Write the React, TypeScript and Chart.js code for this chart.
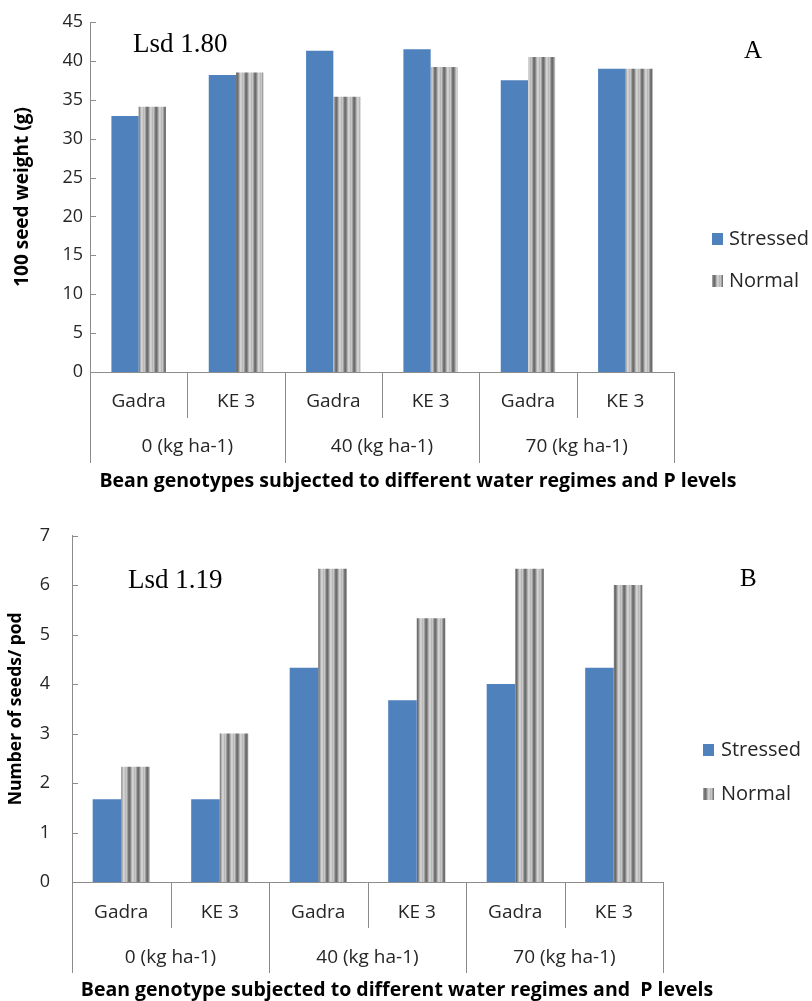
import React, { useEffect, useRef } from 'react';
import { Chart, registerables } from 'chart.js';

Chart.register(...registerables);

// ---------- data ----------
const genotypes = ['Gadra', 'KE 3', 'Gadra', 'KE 3', 'Gadra', 'KE 3'];
const pLevels = ['0 (kg ha-1)', '40 (kg ha-1)', '70 (kg ha-1)'];
const seriesNames = ['Stressed', 'Normal'];

const seedWeightStressed = [32.9, 38.2, 41.3, 41.5, 37.5, 39.0];
const seedWeightNormal = [34.1, 38.5, 35.4, 39.2, 40.5, 39.0];
const seedWeightAxis = { min: 0, max: 45, step: 5 };

const seedsPodStressed = [1.67, 1.67, 4.33, 3.67, 4.0, 4.33];
const seedsPodNormal = [2.33, 3.0, 6.33, 5.33, 6.33, 6.0];
const seedsPodAxis = { min: 0, max: 7, step: 1 };

const panelA = { letter: 'A', lsd: 'Lsd 1.80', yTitle: '100 seed weight (g)', xTitle: 'Bean genotypes subjected to different water regimes and P levels' };
const panelB = { letter: 'B', lsd: 'Lsd 1.19', yTitle: 'Number of seeds/ pod', xTitle: 'Bean genotype subjected to different water regimes and  P levels' };

// ---------- styles ----------
const BLUE = '#4F81BD';
const AXIS = '#8c8c8c';
const TEXT = '#262626';
const SANS = '"Open Sans", "Liberation Sans", sans-serif';
const SERIF = '"Liberation Serif", "DejaVu Serif", serif';

function stripePattern(ctx: CanvasRenderingContext2D): CanvasPattern {
  const c = document.createElement('canvas');
  const cols = ['#c6c6c6', '#a0a0a0', '#777777', '#6c6c6c', '#8a8a8a', '#b2b2b2', '#d2d2d2', '#cdcdcd', '#b9b9b9'];
  c.width = cols.length;
  c.height = 4;
  const g = c.getContext('2d')!;
  cols.forEach((col, i) => {
    g.fillStyle = col;
    g.fillRect(i, 0, 1, 4);
  });
  return ctx.createPattern(c, 'repeat')!;
}

type Layout = {
  width: number;
  height: number;
  areaLeft: number;
  areaRight: number;
  areaTop: number;
  areaBottom: number;
  tickPad: number;
  yTitlePad: number;
  yTitleSize: number;
  catPct: number;
  row1: number;
  row2: number;
  titleRow: number;
  shortLine: number;
  longLine: number;
  xTitleX: number;
  lsdX: number;
  lsdY: number;
  letterX: number;
  letterY: number;
  legendBoxX: number;
  legendTextX: number;
  legendY: number[];
};

const layoutA: Layout = {
  width: 812, height: 500,
  areaLeft: 90, areaRight: 674, areaTop: 22, areaBottom: 372,
  tickPad: 7, yTitlePad: 11, yTitleSize: 19, catPct: 0.56,
  row1: 30, row2: 75, titleRow: 109, shortLine: 46, longLine: 91,
  xTitleX: 418,
  lsdX: 133, lsdY: 52, letterX: 744, letterY: 58,
  legendBoxX: 712, legendTextX: 729, legendY: [239, 281],
};

const layoutB: Layout = {
  width: 812, height: 501,
  areaLeft: 72, areaRight: 663, areaTop: 35.5, areaBottom: 382,
  tickPad: 22, yTitlePad: 6, yTitleSize: 17.5, catPct: 0.58,
  row1: 31, row2: 76, titleRow: 108, shortLine: 46, longLine: 91,
  xTitleX: 397,
  lsdX: 128, lsdY: 88, letterX: 740, letterY: 86,
  legendBoxX: 703, legendTextX: 721, legendY: [250, 294],
};

type Panel = typeof panelA;

function BarPanel(props: {
  panel: Panel;
  lay: Layout;
  stressed: number[];
  normal: number[];
  axis: { min: number; max: number; step: number };
  top: number;
}) {
  const ref = useRef<HTMLCanvasElement>(null);
  const { panel, lay, stressed, normal, axis, top } = props;

  useEffect(() => {
    const canvas = ref.current!;
    const ctx0 = canvas.getContext('2d')!;
    const pattern = stripePattern(ctx0);

    const decor = {
      id: 'decor',
      afterDraw(chart: any) {
        const ctx: CanvasRenderingContext2D = chart.ctx;
        const area = chart.chartArea;
        const xs = chart.scales.x;
        const ys = chart.scales.y;
        const n = genotypes.length;
        const w = xs.getPixelForValue(1) - xs.getPixelForValue(0);
        const bound = (i: number) => xs.getPixelForValue(0) - w / 2 + i * w;
        const base = area.bottom;
        ctx.save();
        ctx.strokeStyle = AXIS;
        ctx.lineWidth = 1;
        // baseline
        ctx.beginPath();
        ctx.moveTo(area.left, Math.round(base) + 0.5);
        ctx.lineTo(area.right, Math.round(base) + 0.5);
        ctx.stroke();
        // separators
        for (let i = 0; i <= n; i++) {
          const x = Math.round(bound(i)) + 0.5;
          const len = i % 2 === 0 ? lay.longLine : lay.shortLine;
          ctx.beginPath();
          ctx.moveTo(x, base);
          ctx.lineTo(x, base + len);
          ctx.stroke();
        }
        // inside y ticks
        ys.ticks.forEach((t: any) => {
          const y = Math.round(ys.getPixelForValue(t.value)) + 0.5;
          ctx.beginPath();
          ctx.moveTo(area.left, y);
          ctx.lineTo(area.left + 6, y);
          ctx.stroke();
        });
        // category labels
        ctx.fillStyle = TEXT;
        ctx.textAlign = 'center';
        ctx.textBaseline = 'middle';
        ctx.font = `19px ${SANS}`;
        genotypes.forEach((g, i) => {
          ctx.fillText(g, xs.getPixelForValue(i), base + lay.row1);
        });
        pLevels.forEach((p, k) => {
          ctx.fillText(p, (bound(2 * k) + bound(2 * k + 2)) / 2, base + lay.row2);
        });
        // x title
        ctx.fillStyle = '#000';
        ctx.font = `bold 19.5px ${SANS}`;
        ctx.fillText(panel.xTitle, lay.xTitleX, base + lay.titleRow);
        // Lsd and panel letter
        ctx.textAlign = 'left';
        ctx.textBaseline = 'alphabetic';
        ctx.font = `27px ${SERIF}`;
        ctx.fillText(panel.lsd, lay.lsdX, lay.lsdY);
        ctx.font = `25px ${SERIF}`;
        ctx.fillText(panel.letter, lay.letterX, lay.letterY);
        // legend
        ctx.textBaseline = 'middle';
        ctx.font = `20px ${SANS}`;
        chart.data.datasets.forEach((ds: any, i: number) => {
          const cy = lay.legendY[i];
          ctx.fillStyle = ds.backgroundColor;
          ctx.fillRect(lay.legendBoxX, cy - 6, 11, 12);
          ctx.fillStyle = TEXT;
          ctx.fillText(ds.label, lay.legendTextX, cy);
        });
        ctx.restore();
      },
    };

    const chart = new Chart(canvas, {
      type: 'bar',
      data: {
        labels: genotypes,
        datasets: [
          { label: seriesNames[0], data: stressed, backgroundColor: BLUE, borderWidth: 0 },
          { label: seriesNames[1], data: normal, backgroundColor: pattern as any, borderWidth: 0 },
        ],
      },
      options: {
        responsive: false,
        animation: false,
        devicePixelRatio: 1,
        layout: {
          padding: {
            left: 0,
            top: lay.areaTop,
            right: lay.width - lay.areaRight,
            bottom: lay.height - lay.areaBottom,
          },
        },
        datasets: { bar: { categoryPercentage: lay.catPct, barPercentage: 1 } },
        plugins: { legend: { display: false }, tooltip: { enabled: false } },
        scales: {
          x: { display: false, offset: true },
          y: {
            min: axis.min,
            max: axis.max,
            ticks: { stepSize: axis.step, padding: lay.tickPad, color: TEXT, font: { family: SANS, size: 18 } },
            grid: { display: false, drawTicks: false },
            border: { display: true, color: AXIS, width: 1 },
            title: {
              display: true,
              text: panel.yTitle,
              color: '#000',
              font: { family: SANS, size: lay.yTitleSize, weight: 'bold' },
              padding: lay.yTitlePad,
            },
            afterFit: (s: any) => {
              s.width = lay.areaLeft;
            },
          },
        },
      } as any,
      plugins: [decor],
    });
    return () => chart.destroy();
  }, []);

  return (
    <canvas
      ref={ref}
      width={lay.width}
      height={lay.height}
      style={{ position: 'absolute', left: 0, top, width: lay.width, height: lay.height }}
    />
  );
}

export default function App() {
  return (
    <div style={{ position: 'absolute', left: 0, top: 0, width: 812, height: 1001, background: '#fff' }}>
      <BarPanel panel={panelA} lay={layoutA} stressed={seedWeightStressed} normal={seedWeightNormal} axis={seedWeightAxis} top={0} />
      <BarPanel panel={panelB} lay={layoutB} stressed={seedsPodStressed} normal={seedsPodNormal} axis={seedsPodAxis} top={500} />
    </div>
  );
}
